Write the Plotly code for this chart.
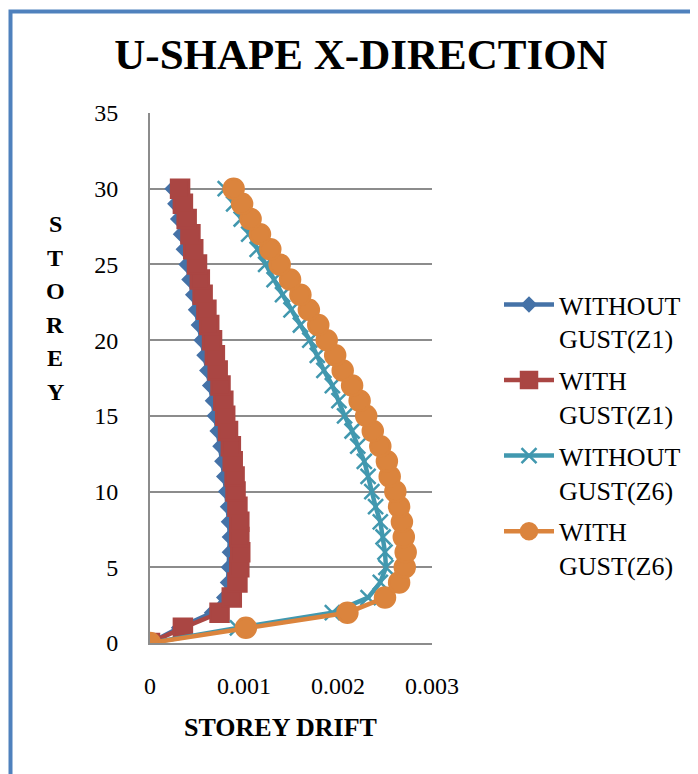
import plotly.graph_objects as go

storey = list(range(0, 31))

without_gust_z1 = [0, 0.00031, 0.00066, 0.00079, 0.00083, 0.00084, 0.00085, 0.00085, 0.00084, 0.00083,
                   0.00081, 0.00079, 0.00077, 0.00075, 0.00072, 0.00069, 0.00067, 0.00064, 0.00061, 0.00058,
                   0.00055, 0.00052, 0.00049, 0.00046, 0.00042, 0.00039, 0.00036, 0.00033, 0.00030, 0.00027,
                   0.00024]
with_gust_z1 = [0, 0.00035, 0.00074, 0.00087, 0.00093, 0.00095, 0.00096, 0.00095, 0.00095, 0.00093,
                0.00091, 0.00090, 0.00088, 0.00086, 0.00083, 0.00080, 0.00078, 0.00075, 0.00072, 0.00069,
                0.00066, 0.00063, 0.00060, 0.00056, 0.00053, 0.00050, 0.00046, 0.00043, 0.00039, 0.00035,
                0.00032]
without_gust_z6 = [0, 0.00093, 0.00194, 0.00232, 0.00245, 0.00251, 0.00250, 0.00248, 0.00245, 0.00240,
                   0.00236, 0.00232, 0.00228, 0.00221, 0.00215, 0.00207, 0.00201, 0.00194, 0.00185, 0.00178,
                   0.00170, 0.00160, 0.00150, 0.00141, 0.00132, 0.00123, 0.00114, 0.00105, 0.00097, 0.00089,
                   0.00080]
with_gust_z6 = [0, 0.00102, 0.00210, 0.00250, 0.00265, 0.00271, 0.00272, 0.00270, 0.00268, 0.00265,
                0.00261, 0.00255, 0.00252, 0.00245, 0.00237, 0.00230, 0.00223, 0.00215, 0.00205, 0.00197,
                0.00188, 0.00179, 0.00169, 0.00160, 0.00149, 0.00138, 0.00128, 0.00117, 0.00107, 0.00098,
                0.00089]

names = ['WITHOUT<br>GUST(Z1)', 'WITH<br>GUST(Z1)', 'WITHOUT<br>GUST(Z6)', 'WITH<br>GUST(Z6)']
colors = ['#4572A7', '#AA4643', '#4198AF', '#DB843D']
symbols = ['diamond', 'square', 'x-thin-open', 'circle']
sizes = [10, 18, 15, 20]
series = [without_gust_z1, with_gust_z1, without_gust_z6, with_gust_z6]

serif = 'Liberation Serif, Times New Roman, serif'

# page body adds ~8px offset, so layout is computed in figure pixels
L, T, PW, PH = 142, 105, 282, 530

def px(xp):
    return (xp - 8 - L) / PW

def py(yp):
    return (T + PH - (yp - 8)) / PH

fig = go.Figure()
for i in range(4):
    fig.add_trace(go.Scatter(
        name = names[i],
        legendgroup = 'g%d' % i,
        x = series[i],
        y = storey,
        mode = 'lines+markers',
        line = dict(color = colors[i], width = 4.5),
        marker = dict(symbol = symbols[i], size = sizes[i], color = colors[i],
                      line = dict(color = colors[i], width = 2.5)),
    ))

fig.update_layout(
    width = 698,
    height = 774,
    margin = dict(l = L, r = 698 - L - PW, t = T, b = 774 - T - PH),
    paper_bgcolor = 'white',
    plot_bgcolor = 'white',
    font = dict(family = serif, color = 'black', size = 24),
    title = dict(text = '<b>U-SHAPE X-DIRECTION</b>', x = 353 / 698, xanchor = 'center',
                 y = 1 - 46 / 774, yanchor = 'middle', font = dict(size = 43, family = serif)),
    legend = dict(x = px(499), xanchor = 'left', y = py(281), yanchor = 'top',
                  font = dict(size = 26, family = serif), valign = 'top', itemwidth = 50,
                  tracegroupgap = 5, bgcolor = 'rgba(0,0,0,0)'),
    showlegend = True,
)

fig.update_xaxes(range = [0, 0.003], dtick = 0.001, tick0 = 0, showgrid = False,
                 showline = True, linecolor = '#8C8C8C', linewidth = 2, zeroline = False,
                 ticks = '', ticklabelstandoff = 20, tickfont = dict(size = 24))
fig.update_yaxes(range = [0, 35], dtick = 5, tick0 = 0, showgrid = True, gridcolor = '#8C8C8C',
                 gridwidth = 2, showline = True, linecolor = '#8C8C8C', linewidth = 2,
                 zeroline = False, ticks = '', ticklabelstandoff = 25, tickfont = dict(size = 24))

# x-axis title sits left of the plot centre in the original
fig.add_annotation(text = '<b>STOREY DRIFT</b>', xref = 'paper', yref = 'paper',
                   x = px(280), y = py(727), showarrow = False,
                   xanchor = 'center', yanchor = 'middle', font = dict(size = 26, family = serif))

# stacked y-axis title letters
for k, ch in enumerate('STOREY'):
    fig.add_annotation(text = '<b>' + ch + '</b>', xref = 'paper', yref = 'paper',
                       x = px(55), y = py(224 + k * 33.6), showarrow = False,
                       xanchor = 'center', yanchor = 'middle', font = dict(size = 24, family = serif))

# blue chart-area border (only top and left edges are in view)
fig.add_shape(type = 'rect', xref = 'paper', yref = 'paper',
              x0 = px(10.5), x1 = 3, y0 = -2, y1 = py(11.5),
              line = dict(color = '#4F81BD', width = 4), fillcolor = 'rgba(0,0,0,0)', layer = 'below')

fig.write_html('out.html')
